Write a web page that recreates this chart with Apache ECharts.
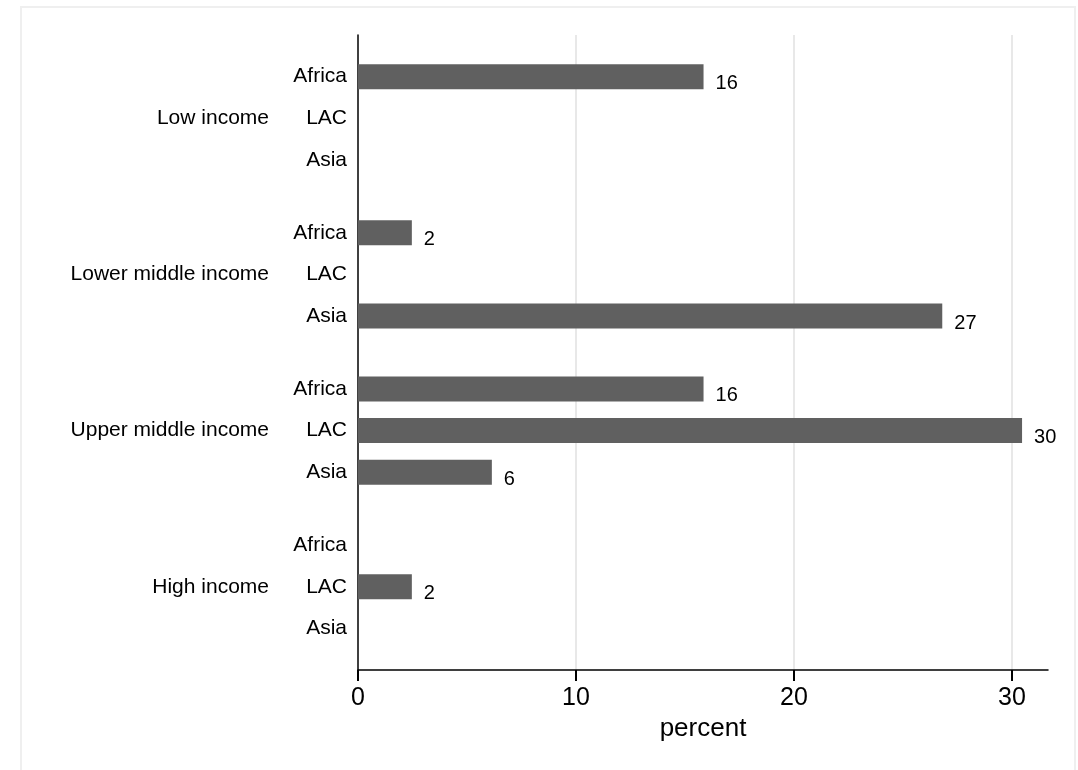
<!DOCTYPE html>
<html>
<head>
<meta charset="utf-8">
<script src="https://cdn.jsdelivr.net/npm/echarts@6/dist/echarts.min.js"></script>
<style>html,body{margin:0;padding:0;background:#fff;}#c{width:1078px;height:770px;}</style>
</head>
<body>
<div id="c"></div>
<script>
// ---- data ----
const groups = ['Low income', 'Lower middle income', 'Upper middle income', 'High income'];
const regions = ['Africa', 'LAC', 'Asia'];
const africa = [15.85, 2.47, 15.85, null];
const lac    = [null, null, 30.46, 2.47];
const asia   = [null, 26.8, 6.14, null];
const xTicks = [0, 10, 20, 30];

// ---- layout helpers (row slots on a fine category axis) ----
const ROW_STEP = 4, GROUP_STEP = 15, SLOT_MIN = -4, SLOT_MAX = 57;
const series3 = [africa, lac, asia];
const regionLabelAt = {}, groupLabelAt = {}, valueAt = {};
groups.forEach((g, gi) => {
  regions.forEach((r, ri) => {
    const pos = gi * GROUP_STEP + ri * ROW_STEP;
    regionLabelAt[pos] = r;
    if (ri === 1) groupLabelAt[pos] = g;
    valueAt[pos] = series3[ri][gi];
  });
});
const slots = [], barData = [];
for (let s = SLOT_MIN; s <= SLOT_MAX; s++) {
  slots.push(String(s));
  barData.push(valueAt[s] == null ? null : valueAt[s]);
}

const font = 'Arial, "Liberation Sans", Helvetica, sans-serif';
const yBase = {
  type: 'category', data: slots, inverse: true, boundaryGap: false,
  splitLine: { show: false }, axisTick: { show: false }
};
const chart = echarts.init(document.getElementById('c'), null, { renderer: 'canvas' });
const GRID = { left: 358, right: 30, top: 35, bottom: 100 };
chart.setOption({
  animation: false,
  backgroundColor: '#fff',
  grid: GRID,
  xAxis: {
    type: 'value', min: 0, max: 31.65, interval: 10,
    name: 'percent', nameLocation: 'middle', nameGap: 44,
    nameTextStyle: { fontFamily: font, fontSize: 26, color: '#000' },
    axisLine: { show: true, onZero: false, lineStyle: { color: '#000', width: 1.5 } },
    axisTick: { show: true, inside: false, length: 10, lineStyle: { color: '#000', width: 1.5 } },
    axisLabel: {
      fontFamily: font, fontSize: 25, color: '#000', margin: 16,
      showMaxLabel: false,
      formatter: v => (xTicks.includes(v) ? String(v) : '')
    },
    splitLine: { show: true, showMinLine: false, showMaxLine: false, lineStyle: { color: '#e8e8e8', width: 2 } }
  },
  yAxis: [
    Object.assign({}, yBase, {
      axisLine: { show: true, onZero: false, lineStyle: { color: '#000', width: 1.5 } },
      axisLabel: {
        fontFamily: font, fontSize: 21, color: '#000', margin: 11, interval: 0,
        formatter: v => regionLabelAt[v] || ''
      }
    }),
    Object.assign({}, yBase, {
      position: 'left',
      axisLine: { show: false },
      axisLabel: {
        fontFamily: font, fontSize: 21, color: '#000', margin: 89, interval: 0,
        formatter: v => groupLabelAt[v] || ''
      }
    })
  ],
  series: [{
    type: 'bar',
    xAxisIndex: 0, yAxisIndex: 0,
    data: barData,
    barWidth: 25,
    itemStyle: { color: '#606060' },
    label: {
      show: true, position: 'right', distance: 12, offset: [0, 7],
      fontFamily: font, fontSize: 20, color: '#000',
      formatter: p => String(Math.round(p.value))
    }
  }]
});
// frame + tick marks placed through the chart's own x scale
const axisY = 770 - GRID.bottom;
const gfx = [{
  type: 'rect', shape: { x: 21, y: 7, width: 1054, height: 800 },
  style: { fill: 'none', stroke: '#efefef', lineWidth: 2 }, silent: true, z: -10
}];
xTicks.forEach(t => {
  const px = chart.convertToPixel({ xAxisIndex: 0 }, t);
  gfx.push({
    type: 'rect', x: px - 1, y: axisY, shape: { x: 0, y: 0, width: 2, height: 11 },
    style: { fill: '#000' }, silent: true, z: 100
  });
});
chart.setOption({ graphic: { elements: gfx } });
</script>
</body>
</html>
